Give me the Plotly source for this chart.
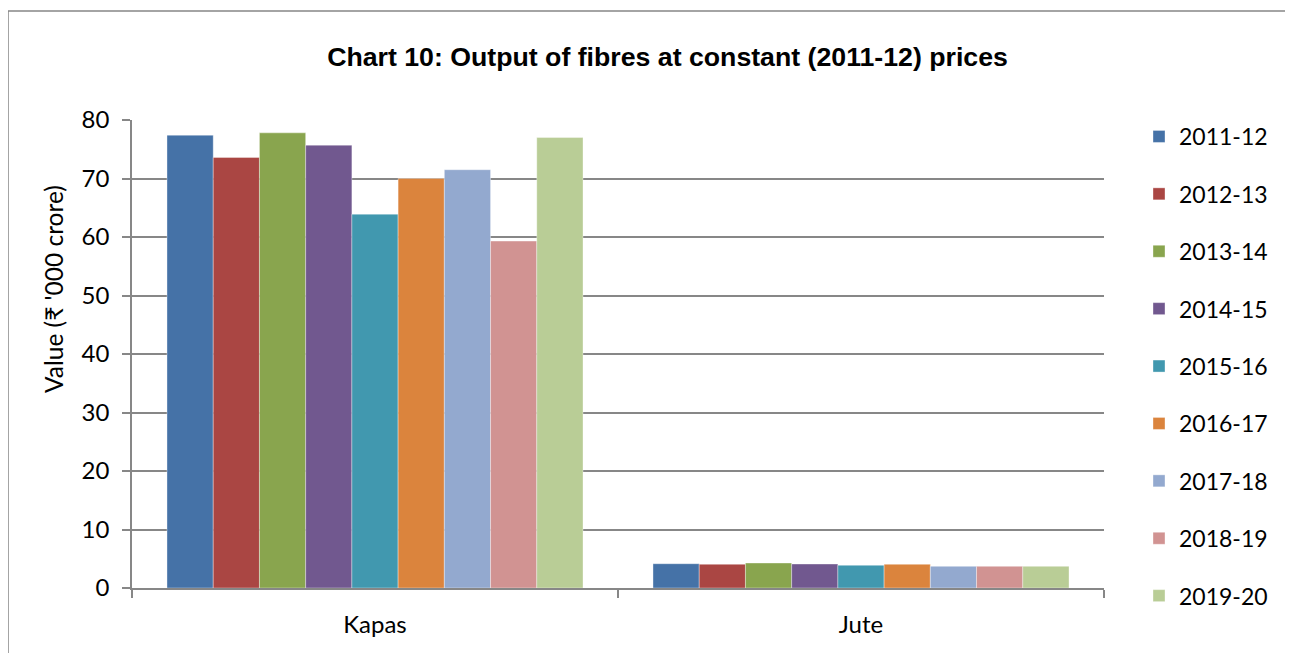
import plotly.graph_objects as go

categories = ["Kapas", "Jute"]
years = ["2011-12", "2012-13", "2013-14", "2014-15", "2015-16",
         "2016-17", "2017-18", "2018-19", "2019-20"]
kapas = [77.4, 73.6, 77.8, 75.7, 63.9, 70.0, 71.5, 59.3, 77.0]
jute = [4.15, 4.05, 4.27, 4.1, 3.88, 4.05, 3.7, 3.7, 3.7]
colors = ["#4572A7", "#AA4643", "#89A54E", "#71588F", "#4198AF",
          "#DB843D", "#93A9CF", "#D19392", "#B9CD96"]
y_title = "Value (₹ '000 crore)"

# page has an 8px body margin; figure pixel = page pixel - 8
OFF = 8
W, H = 1293 - OFF, 653 - OFF
L, T = 132 - OFF, 120 - OFF
pw, ph = 972, 468
R, B = W - L - pw, H - T - ph

def px(p):  # page x -> paper x
    return (p - OFF - L) / pw

def py(p):  # page y -> paper y
    return 1 - (p - OFF - T) / ph

fig = go.Figure()
for i, y in enumerate(years):
    fig.add_trace(go.Bar(
        name=y, x=categories, y=[kapas[i], jute[i]],
        marker=dict(color=colors[i], line=dict(width=0.6, color="rgba(255,255,255,0.6)")),
        legendgroup=y,
    ))

fig.update_layout(
    width=W, height=H,
    margin=dict(l=L, r=R, t=T, b=B),
    paper_bgcolor="white", plot_bgcolor="white",
    barmode="group", bargap=0.144, bargroupgap=0,
    font=dict(family="Lato, 'Noto Sans', sans-serif", color="black", size=23),
    title=dict(
        text="<b>Chart 10: Output of fibres at constant (2011-12) prices</b>",
        font=dict(family="'Liberation Sans', Arial, sans-serif", size=26.7, color="black"),
        x=px(667.5), xref="paper", xanchor="center",
        y=1 - (57 - OFF) / H, yref="container", yanchor="middle",
    ),
    legend=dict(
        x=px(1139), xanchor="left",
        y=py(115), yanchor="top",
        font=dict(size=23), tracegroupgap=24.5, maxheight=640,
        itemclick=False, bgcolor="rgba(0,0,0,0)",
    ),
    showlegend=True,
)

fig.update_xaxes(
    showline=True, linecolor="#878787", linewidth=1.5,
    ticks="outside", tickson="boundaries", ticklen=8, tickcolor="#878787", tickwidth=1.5,
    tickfont=dict(size=24), showgrid=False, ticklabelstandoff=14,
)
fig.update_yaxes(
    range=[0, 80], dtick=10, tick0=0,
    showline=True, linecolor="#878787", linewidth=1.5,
    ticks="outside", ticklen=8, tickcolor="#878787", tickwidth=1.5,
    showgrid=True, gridcolor="#878787", gridwidth=1.5, zeroline=False,
    tickfont=dict(size=24), ticklabelstandoff=8,
)

fig.add_annotation(
    text=y_title, textangle=-90, showarrow=False,
    xref="paper", yref="paper", x=px(53), y=py(289),
    xanchor="center", yanchor="middle",
    font=dict(size=24.5, color="black"),
)

# outer chart border
fig.add_shape(
    type="rect", xref="paper", yref="paper",
    x0=px(8), x1=px(1320),
    y0=py(680), y1=py(11),
    line=dict(color="#868686", width=1.5), fillcolor="rgba(0,0,0,0)", layer="below",
)

fig.write_html("out.html")
